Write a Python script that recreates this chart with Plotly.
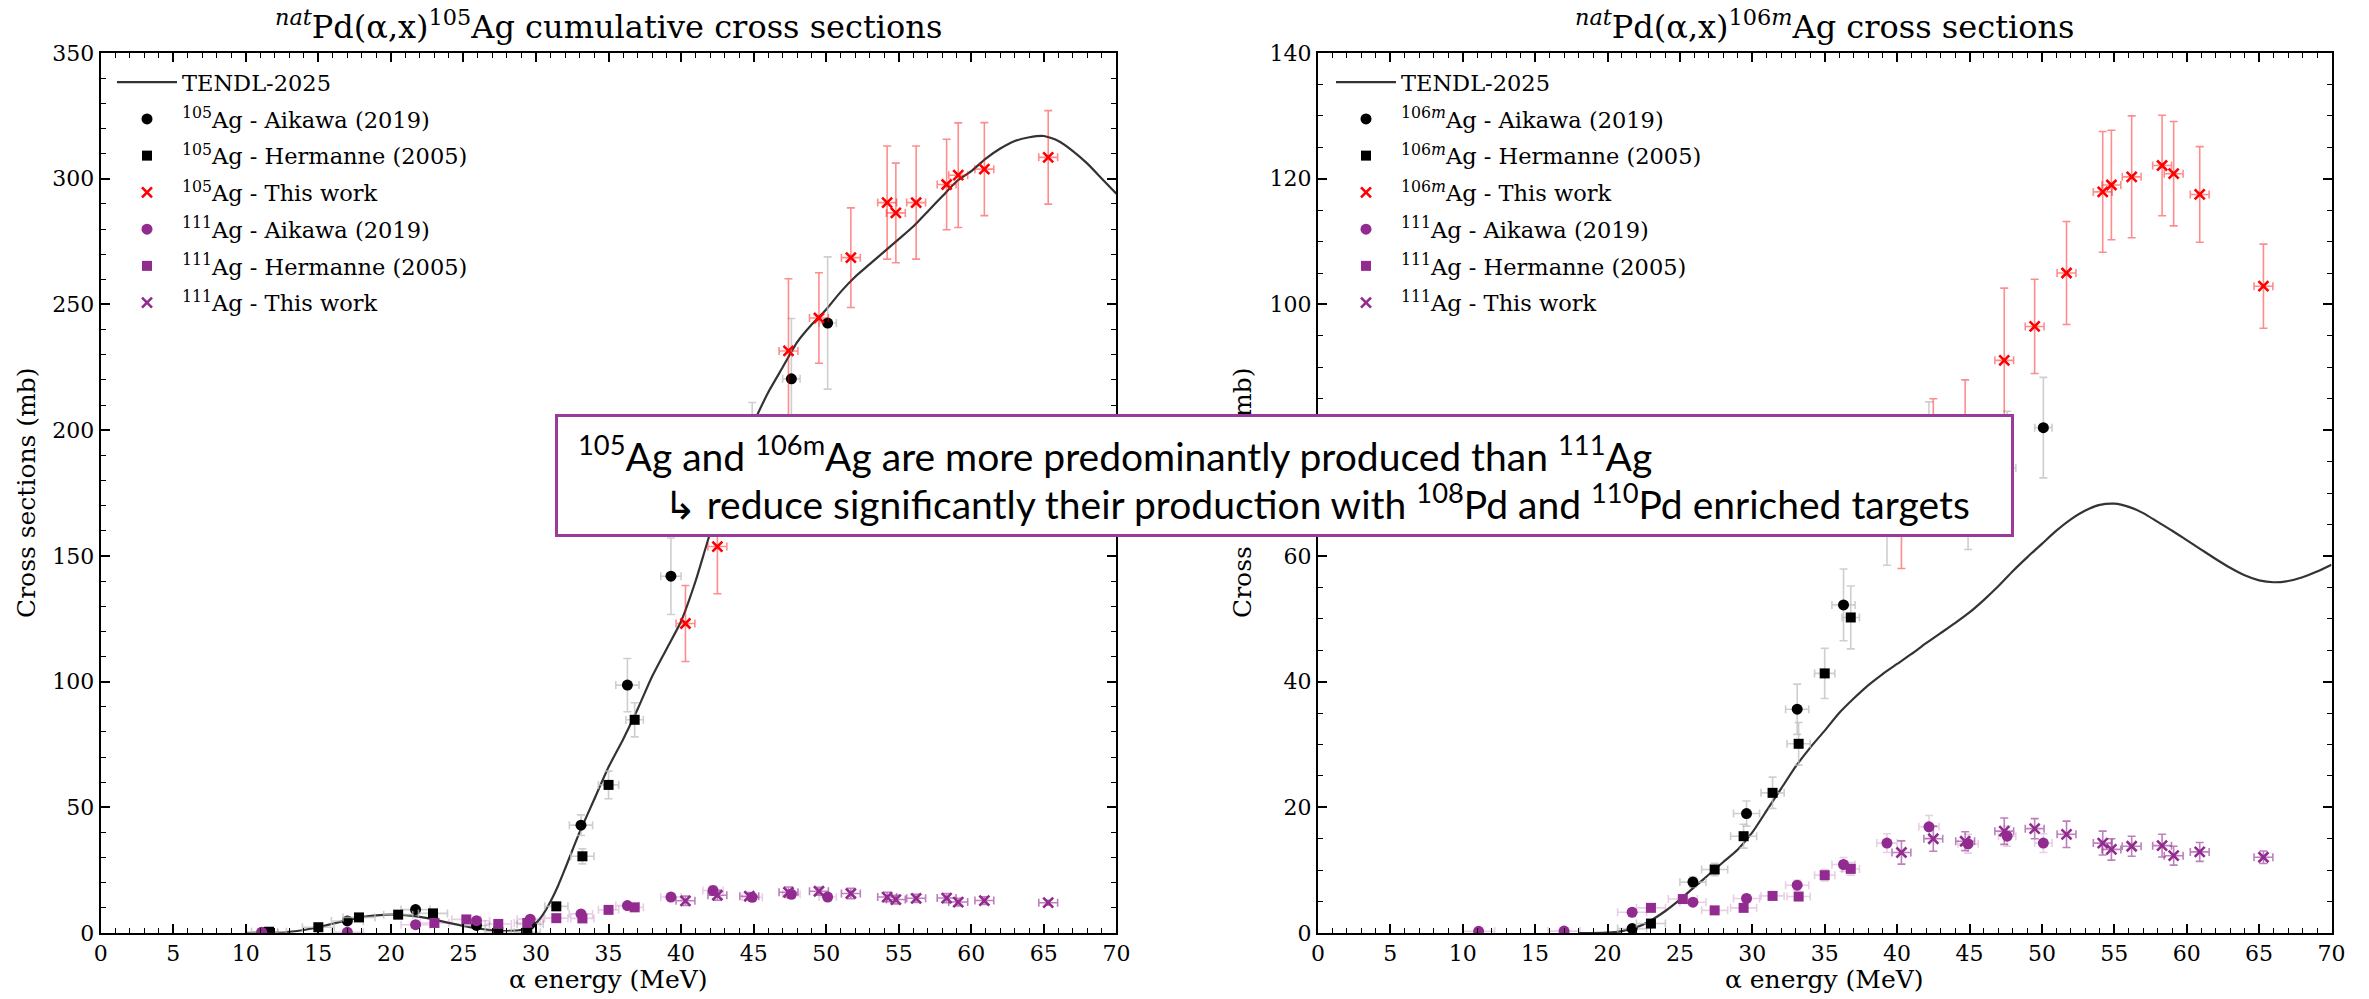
import plotly.graph_objects as go

# ---------------- data ----------------
# TENDL-2025 curves
tendl_E_105 = [10, 11, 12, 13, 14, 15, 16, 17, 18, 19, 20, 21, 22, 23, 24, 25, 26, 27, 28, 29, 30, 30.5, 31, 31.5, 32,
               33, 34, 35, 36, 37, 38, 39, 40, 41, 42, 43, 44, 45, 46, 47, 48, 49, 50, 51, 52, 53, 54, 55, 56, 57,
               58, 59, 60, 61, 62, 63, 64, 65, 66, 67, 68, 69, 70]
tendl_xs_105 = [0, 0.02, 0.1, 0.5, 1.2, 2.3, 3.7, 5.1, 6.3, 7.0, 7.3, 7.1, 6.4, 5.3, 4.0, 2.8, 1.8, 1.1, 0.8, 1.3, 4.0,
                7.5, 12.5, 18.5, 25.5, 40, 53, 66, 77, 89, 102, 113, 124, 140, 159, 175, 190, 203, 215, 225, 235, 242,
                248, 255, 261, 266, 271, 276, 281, 287, 293, 299, 303, 308, 312, 315, 316.5, 317, 315, 311, 306, 300, 294]

tendl_E_106m = [18, 19, 20, 21, 22, 23, 24, 25, 26, 27, 28, 29, 30, 31, 32, 33, 34, 35, 36, 37, 38, 39, 40, 41, 42, 43,
                44, 45, 46, 47, 48, 49, 50, 51, 52, 53, 54, 55, 56, 57, 58, 59, 60, 61, 62, 63, 64, 65, 66, 67, 68, 69, 70]
tendl_xs_106m = [0, 0, 0.05, 0.3, 0.9, 2.0, 3.5, 5.3, 7.3, 9.3, 11.3, 13.3, 16.0, 19.5, 23.0, 26.5, 29.5, 32.2, 35.0,
                 37.3, 39.4, 41.2, 42.8, 44.4, 46.1, 47.7, 49.3, 51.0, 53.0, 55.2, 57.6, 59.8, 61.9, 64.0, 65.8, 67.2,
                 68.1, 68.3, 67.8, 66.8, 65.4, 64.0, 62.5, 61.0, 59.5, 58.1, 56.9, 56.1, 55.8, 56.0, 56.6, 57.5, 58.6]

# Aikawa (2019)
aik_E = [11.1, 17.0, 21.7, 25.9, 29.6, 33.1, 36.3, 39.3, 42.2, 44.9, 47.6, 50.1]
aik_E_err = [1.1, 1.1, 1.0, 0.9, 0.9, 0.8, 0.8, 0.7, 0.7, 0.7, 0.6, 0.6]
aik_105 = [0.2, 4.8, 9.3, 3.0, 3.5, 42.9, 98.6, 141.9, 175, 195, 220.4, 242.6]
aik_105_err = [0.05, 0.8, 1.2, 0.5, 0.6, 4.1, 10.6, 15.2, 15, 16, 24, 26.3]
aik_106m_E = [21.7, 25.9, 29.6, 33.1, 36.3, 39.3, 42.2, 44.9, 47.6, 50.1]
aik_106m_E_err = [1.0, 0.9, 0.9, 0.8, 0.8, 0.7, 0.7, 0.7, 0.6, 0.6]
aik_106m = [0.7, 8.1, 19.0, 35.6, 52.2, 65.0, 76.0, 70.0, 74.0, 80.4]
aik_106m_err = [0.2, 0.8, 2.0, 4.0, 5.7, 6.5, 8.5, 9.0, 9.0, 8.0]
aik_111 = [0.26, 0.3, 3.3, 4.9, 5.5, 7.6, 10.9, 14.3, 16.9, 14.2, 15.4, 14.3]
aik_111_err = [0.05, 0.05, 0.4, 0.5, 0.6, 0.8, 1.1, 1.5, 1.8, 1.5, 1.6, 1.5]

# Hermanne (2005)
her_105_E = [11.6, 15.0, 17.8, 20.5, 22.9, 27.4, 29.4, 31.4, 33.2, 35.0, 36.8]
her_105_E_err = [1.2, 1.1, 1.1, 1.0, 1.0, 0.9, 0.9, 0.8, 0.8, 0.7, 0.6]
her_105 = [0.5, 2.3, 6.2, 7.3, 7.8, 0.5, 0.3, 10.6, 30.5, 58.9, 84.8]
her_105_err = [0.1, 0.3, 0.7, 0.8, 0.9, 0.1, 0.1, 1.1, 3.0, 5.5, 6.8]
her_E = [23.0, 25.2, 27.4, 29.4, 31.4, 33.2, 35.0, 36.8]
her_E_err = [1.0, 1.0, 0.9, 0.9, 0.8, 0.8, 0.7, 0.6]
her_106m_E = [23.0, 27.4, 29.4, 31.4, 33.2, 35.0, 36.8]
her_106m_E_err = [1.0, 0.9, 0.9, 0.8, 0.8, 0.7, 0.6]
her_106m = [1.5, 10.1, 15.4, 22.3, 30.1, 41.3, 50.2]
her_106m_err = [0.3, 1.0, 1.9, 2.5, 3.4, 4.0, 5.0]
her_111 = [4.0, 5.4, 3.6, 4.0, 5.9, 5.8, 9.2, 10.2]
her_111_err = [0.5, 0.6, 0.4, 0.5, 0.6, 0.6, 0.9, 1.0]

# This work
tw_E = [40.3, 42.5, 44.7, 47.4, 49.5, 51.7, 54.2, 54.8, 56.2, 58.3, 59.1, 60.9, 65.3]
tw_E_err = [0.65] * 13
tw_105 = [123.1, 153.7, 183, 231.5, 244.6, 268.6, 290.5, 286.4, 290.5, 297.7, 301.4, 303.8, 308.5]
tw_105_err = [15.1, 18.8, 18, 28.7, 18, 19.8, 22.5, 19.8, 22.5, 18, 20.8, 18.5, 18.6]
tw_106m = [66, 75, 77, 91.1, 96.5, 105.0, 117.9, 119.0, 120.3, 122.1, 120.8, 117.5, 102.9]
tw_106m_err = [8, 10, 11, 11.5, 7.5, 8.2, 9.6, 8.7, 9.7, 8.0, 8.3, 7.6, 6.7]
tw_111 = [12.8, 15.0, 14.6, 16.2, 16.6, 15.7, 14.3, 13.3, 13.8, 13.9, 12.3, 12.9, 12.05]
tw_111_err = [1.85, 2.0, 1.5, 2.1, 1.6, 2.1, 1.9, 1.7, 1.6, 1.8, 1.5, 1.5, 1.0]

x_ticks = list(range(0, 75, 5))
y_ticks_left = list(range(0, 400, 50))
y_ticks_right = list(range(0, 160, 20))

# ---------------- styling ----------------
W, H = 2369, 999
SERIF = "DejaVu Serif"
PURPLE = "#922b8f"
GRAY_ERR = "rgba(190,190,190,0.75)"
RED_ERR = "rgba(255,0,0,0.45)"
PURP_ERR_LIGHT = "rgba(146,43,143,0.22)"
PURP_ERR = "rgba(146,43,143,0.6)"

def px_x(p):
    return p / W

def px_y(p):
    return 1 - p / H

fig = go.Figure()

def add_err_trace(x, y, ex, ey, name, symbol, color, ecolor, xa, ya, legend, size=11):
    marker = dict(symbol=symbol, color=color, size=size)
    if symbol.startswith("x"):
        marker["line"] = dict(color=color, width=2.6)
    else:
        marker["line"] = dict(width=0)
    fig.add_trace(go.Scatter(
        x=x, y=y, mode="markers", name=name, marker=marker,
        error_x=dict(type="data", array=ex, color=ecolor, thickness=1.6, width=4),
        error_y=dict(type="data", array=ey, color=ecolor, thickness=1.6, width=4),
        xaxis=xa, yaxis=ya, legend=legend, legendgroup=legend + name))

def add_panel(xa, ya, legend, tendlE, tendlY, iso, aikE, aikEe, aikY, aikYe, herE, herEe, herY, herYe, twY, twYe):
    fig.add_trace(go.Scatter(x=tendlE, y=tendlY, mode="lines", name="TENDL-2025",
                             line=dict(color="#333333", width=2.2, shape="spline", smoothing=0.6),
                             xaxis=xa, yaxis=ya, legend=legend, legendgroup=legend + "tendl"))
    add_err_trace(aikE, aikY, aikEe, aikYe, iso + "Ag - Aikawa (2019)", "circle", "black", GRAY_ERR, xa, ya, legend)
    add_err_trace(herE, herY, herEe, herYe, iso + "Ag - Hermanne (2005)", "square", "black", GRAY_ERR, xa, ya, legend, size=10)
    add_err_trace(tw_E, twY, tw_E_err, twYe, iso + "Ag - This work", "x-thin", "red", RED_ERR, xa, ya, legend, size=10)
    add_err_trace(aik_E, aik_111, aik_E_err, aik_111_err, "<sup>111</sup>Ag - Aikawa (2019)", "circle", PURPLE, PURP_ERR_LIGHT, xa, ya, legend)
    add_err_trace(her_E, her_111, her_E_err, her_111_err, "<sup>111</sup>Ag - Hermanne (2005)", "square", PURPLE, PURP_ERR_LIGHT, xa, ya, legend, size=10)
    add_err_trace(tw_E, tw_111, tw_E_err, tw_111_err, "<sup>111</sup>Ag - This work", "x-thin", PURPLE, PURP_ERR, xa, ya, legend, size=10)

add_panel("x", "y", "legend", tendl_E_105, tendl_xs_105, "<sup>105</sup>",
          aik_E, aik_E_err, aik_105, aik_105_err, her_105_E, her_105_E_err, her_105, her_105_err, tw_105, tw_105_err)
add_panel("x2", "y2", "legend2", tendl_E_106m, tendl_xs_106m, "<sup>106<i>m</i></sup>",
          aik_106m_E, aik_106m_E_err, aik_106m, aik_106m_err, her_106m_E, her_106m_E_err, her_106m, her_106m_err,
          tw_106m, tw_106m_err)

axis_common = dict(showline=True, linecolor="black", linewidth=2, mirror="allticks", ticks="inside",
                   ticklen=9, tickwidth=1.6, tickcolor="black", showgrid=False, zeroline=False,
                   tickfont=dict(family=SERIF, size=22, color="black"), automargin=False)

yb, yt = px_y(933), px_y(53)
LEGFONT = dict(family=SERIF, size=22.5, color="black")
fig.update_layout(
    width=W, height=H, margin=dict(l=0, r=0, t=0, b=0),
    paper_bgcolor="white", plot_bgcolor="white", showlegend=True,
    xaxis=dict(domain=[px_x(100.7), px_x(1116.4)], range=[0, 70], tickvals=x_ticks, anchor="y",
               minor=dict(ticks="inside", ticklen=5, tickwidth=1.2, tickcolor="black", dtick=1), **axis_common),
    yaxis=dict(domain=[yb, yt], range=[0, 350], tickvals=y_ticks_left, anchor="x",
               minor=dict(ticks="inside", ticklen=5, tickwidth=1.2, tickcolor="black", dtick=10), **axis_common),
    xaxis2=dict(domain=[px_x(1317.9), px_x(2331.5)], range=[0, 70], tickvals=x_ticks, anchor="y2",
                minor=dict(ticks="inside", ticklen=5, tickwidth=1.2, tickcolor="black", dtick=1), **axis_common),
    yaxis2=dict(domain=[yb, yt], range=[0, 140], tickvals=y_ticks_right, anchor="x2",
                minor=dict(ticks="inside", ticklen=5, tickwidth=1.2, tickcolor="black", dtick=5), **axis_common),
    legend=dict(x=px_x(112), y=px_y(61), xanchor="left", yanchor="top", bgcolor="rgba(0,0,0,0)",
                font=LEGFONT, tracegroupgap=4.5, itemwidth=60),
    legend2=dict(x=px_x(1331), y=px_y(61), xanchor="left", yanchor="top", bgcolor="rgba(0,0,0,0)",
                 font=LEGFONT, tracegroupgap=4.5, itemwidth=60),
)

ann = []
# titles
ann.append(dict(text="<sup><i>nat</i></sup>Pd(α,x)<sup>105</sup>Ag cumulative cross sections",
                x=px_x(608.5), y=px_y(25), xref="paper", yref="paper", xanchor="center", yanchor="middle",
                showarrow=False, font=dict(family=SERIF, size=32, color="black")))
ann.append(dict(text="<sup><i>nat</i></sup>Pd(α,x)<sup>106<i>m</i></sup>Ag cross sections",
                x=px_x(1824.7), y=px_y(25), xref="paper", yref="paper", xanchor="center", yanchor="middle",
                showarrow=False, font=dict(family=SERIF, size=32, color="black")))
# axis titles
for xc in (608.5, 1824.7):
    ann.append(dict(text="α energy (MeV)", x=px_x(xc), y=px_y(979), xref="paper", yref="paper",
                    xanchor="center", yanchor="middle", showarrow=False,
                    font=dict(family=SERIF, size=25, color="black")))
for xc in (26, 1242):
    ann.append(dict(text="Cross sections (mb)", x=px_x(xc), y=px_y(493), xref="paper", yref="paper",
                    xanchor="center", yanchor="middle", showarrow=False, textangle=-90,
                    font=dict(family=SERIF, size=25, color="black")))
# message box
ann.append(dict(text="", x=px_x(1284.5), y=px_y(475.5), xref="paper", yref="paper",
                xanchor="center", yanchor="middle", showarrow=False, width=1453, height=117,
                bgcolor="white", bordercolor="#9a3a9a", borderwidth=3, borderpad=0))
BOXFONT = dict(family="Lato, Noto Sans, DejaVu Sans", size=39, color="black")
ann.append(dict(text="<sup>105</sup>Ag and <sup>106m</sup>Ag are more predominantly produced than <sup>111</sup>Ag",
                x=px_x(576), y=px_y(453), xref="paper", yref="paper", xanchor="left", yanchor="middle",
                showarrow=False, font=BOXFONT))
ann.append(dict(text="↳ reduce significantly their production with <sup>108</sup>Pd and <sup>110</sup>Pd enriched targets",
                x=px_x(662), y=px_y(501), xref="paper", yref="paper", xanchor="left", yanchor="middle",
                showarrow=False, font=BOXFONT))
fig.update_layout(annotations=ann)

fig.write_html("out.html")
